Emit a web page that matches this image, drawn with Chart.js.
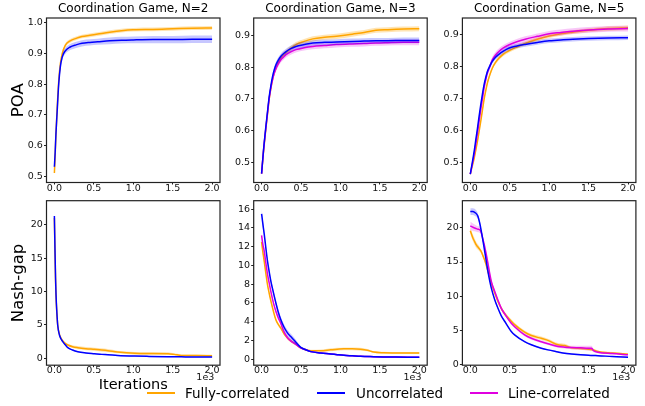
<!DOCTYPE html>
<html lang="en">
<head>
<meta charset="UTF-8">
<title>Coordination Game: POA and Nash-gap</title>
<script src="https://cdn.jsdelivr.net/npm/chart.js"></script>
<style>
  body { margin: 0; background: #fff; font-family: 'DejaVu Sans', sans-serif; }
  #fig { position: relative; width: 645px; height: 406px; overflow: hidden; }
  #fig canvas { position: absolute; }
  .leg { position: absolute; top: 383.5px; font-size: 13.5px; line-height: 18px; color: #000; white-space: nowrap; }
  .leg i { position: absolute; left: -38px; top: 8.5px; width: 28px; height: 1.5px; }
</style>
</head>
<body>
<div id="fig">
  <div class="leg" style="left:185px"><i style="background:#ffa500"></i>Fully-correlated</div>
  <div class="leg" style="left:356px"><i style="background:#0000ff;left:-39px"></i>Uncorrelated</div>
  <div class="leg" style="left:508px"><i style="background:#e000e0"></i>Line-correlated</div>
</div>
<script>
// ---- data (iterations, means and spread) ----
const titles = ['Coordination Game, N=2', 'Coordination Game, N=3', 'Coordination Game, N=5'];
const xTicks = [0, 500, 1000, 1500, 2000];
const poaTicks2 = [0.5, 0.6, 0.7, 0.8, 0.9, 1.0];
const poaTicks = [0.5, 0.6, 0.7, 0.8, 0.9];
const gapTicks20 = [0, 5, 10, 15, 20];
const gapTicks16 = [0, 2, 4, 6, 8, 10, 12, 14, 16];

// POA, N=2
const p1X = [0, 10, 20, 35, 55, 75, 100, 140, 200, 275, 350, 450, 550, 700, 850, 1000, 1250, 1500, 1750, 2000];
const p1Full = [0.512, 0.57, 0.64, 0.72, 0.81, 0.865, 0.899, 0.926, 0.94, 0.948, 0.954, 0.958, 0.962, 0.968, 0.973, 0.976, 0.977, 0.979, 0.981, 0.982];
const p1FullSd = [0.008, 0.008, 0.008, 0.008, 0.008, 0.007, 0.007, 0.006, 0.006, 0.006, 0.006, 0.006, 0.006, 0.006, 0.006, 0.006, 0.006, 0.006, 0.006, 0.006];
const p1Unc = [0.532, 0.58, 0.64, 0.71, 0.80, 0.855, 0.888, 0.908, 0.92, 0.927, 0.932, 0.935, 0.937, 0.94, 0.942, 0.943, 0.944, 0.944, 0.945, 0.945];
const p1UncSd = [0.006, 0.006, 0.006, 0.007, 0.008, 0.009, 0.010, 0.010, 0.010, 0.010, 0.010, 0.010, 0.010, 0.011, 0.011, 0.011, 0.012, 0.012, 0.012, 0.012];

// POA, N=3
const p2X = [0, 25, 55, 75, 97, 120, 140, 160, 182, 210, 245, 280, 310, 370, 435, 540, 650, 800, 950, 1150, 1300, 1450, 1600, 1800, 2000];
const p2Full = [0.464, 0.535, 0.608, 0.652, 0.70, 0.737, 0.763, 0.783, 0.798, 0.815, 0.830, 0.840, 0.847, 0.860, 0.872, 0.882, 0.890, 0.895, 0.898, 0.905, 0.910, 0.917, 0.919, 0.921, 0.922];
const p2FullSd = [0.004, 0.005, 0.006, 0.006, 0.007, 0.007, 0.008, 0.008, 0.008, 0.008, 0.008, 0.008, 0.008, 0.008, 0.008, 0.008, 0.008, 0.008, 0.008, 0.008, 0.008, 0.008, 0.008, 0.008, 0.008];
const p2Unc = [0.464, 0.540, 0.614, 0.660, 0.708, 0.745, 0.772, 0.792, 0.808, 0.822, 0.835, 0.844, 0.850, 0.859, 0.866, 0.872, 0.877, 0.879, 0.880, 0.882, 0.883, 0.884, 0.884, 0.885, 0.885];
const p2UncSd = [0.004, 0.005, 0.006, 0.007, 0.008, 0.009, 0.009, 0.009, 0.009, 0.009, 0.009, 0.009, 0.009, 0.009, 0.009, 0.009, 0.009, 0.009, 0.009, 0.009, 0.009, 0.009, 0.009, 0.009, 0.009];
const p2Line = [0.464, 0.538, 0.610, 0.655, 0.703, 0.738, 0.762, 0.781, 0.796, 0.810, 0.824, 0.833, 0.840, 0.849, 0.856, 0.862, 0.866, 0.869, 0.872, 0.874, 0.875, 0.877, 0.878, 0.879, 0.879];
const p2LineSd = [0.004, 0.005, 0.006, 0.007, 0.008, 0.009, 0.009, 0.009, 0.009, 0.009, 0.009, 0.009, 0.009, 0.009, 0.009, 0.009, 0.009, 0.009, 0.009, 0.009, 0.009, 0.009, 0.009, 0.009, 0.009];

// POA, N=5
const p3X = [0, 25, 50, 70, 92, 112, 133, 155, 175, 196, 217, 250, 279, 320, 362, 420, 487, 590, 696, 850, 1000, 1150, 1300, 1500, 1750, 2000];
const p3Full = [0.465, 0.490, 0.515, 0.540, 0.568, 0.598, 0.630, 0.665, 0.697, 0.724, 0.748, 0.775, 0.794, 0.812, 0.825, 0.838, 0.848, 0.860, 0.871, 0.884, 0.894, 0.901, 0.906, 0.912, 0.917, 0.920];
const p3FullSd = [0.003, 0.004, 0.005, 0.006, 0.006, 0.006, 0.006, 0.006, 0.006, 0.006, 0.006, 0.006, 0.006, 0.006, 0.006, 0.006, 0.006, 0.006, 0.006, 0.006, 0.006, 0.006, 0.006, 0.006, 0.007, 0.007];
const p3Unc = [0.465, 0.500, 0.537, 0.572, 0.609, 0.645, 0.681, 0.715, 0.743, 0.765, 0.784, 0.802, 0.815, 0.828, 0.837, 0.847, 0.856, 0.863, 0.868, 0.874, 0.879, 0.882, 0.884, 0.886, 0.888, 0.889];
const p3UncSd = [0.003, 0.004, 0.005, 0.006, 0.007, 0.007, 0.007, 0.007, 0.007, 0.007, 0.007, 0.007, 0.007, 0.007, 0.007, 0.007, 0.007, 0.007, 0.007, 0.007, 0.007, 0.007, 0.007, 0.007, 0.007, 0.007];
const p3Line = [0.465, 0.495, 0.527, 0.558, 0.594, 0.630, 0.666, 0.700, 0.733, 0.758, 0.779, 0.800, 0.820, 0.835, 0.846, 0.857, 0.866, 0.876, 0.884, 0.893, 0.901, 0.905, 0.909, 0.913, 0.916, 0.917];
const p3LineSd = [0.003, 0.004, 0.005, 0.006, 0.007, 0.008, 0.009, 0.009, 0.009, 0.009, 0.009, 0.009, 0.009, 0.009, 0.009, 0.009, 0.009, 0.009, 0.009, 0.009, 0.009, 0.009, 0.009, 0.009, 0.009, 0.009];

// Nash-gap, N=2
const p4X = [0, 8, 15, 21, 30, 42, 64, 85, 106, 140, 170, 230, 297, 400, 508, 600, 678, 800, 1017, 1200, 1441, 1520, 1610, 1800, 2000];
const p4Full = [21.0, 15.5, 11.5, 9.2, 7.0, 5.0, 3.6, 3.0, 2.6, 2.2, 2.0, 1.75, 1.6, 1.45, 1.35, 1.25, 1.15, 0.95, 0.75, 0.72, 0.70, 0.60, 0.45, 0.42, 0.40];
const p4FullSd = [0.5, 0.5, 0.4, 0.3, 0.25, 0.2, 0.2, 0.2, 0.2, 0.2, 0.2, 0.2, 0.25, 0.25, 0.25, 0.25, 0.25, 0.2, 0.2, 0.2, 0.2, 0.15, 0.15, 0.15, 0.15];
const p4Unc = [21.3, 16.0, 12.0, 9.5, 7.2, 5.0, 3.5, 2.9, 2.5, 2.0, 1.6, 1.25, 1.0, 0.82, 0.70, 0.60, 0.55, 0.45, 0.35, 0.30, 0.25, 0.24, 0.23, 0.21, 0.20];
const p4UncSd = [1.1, 0.7, 0.5, 0.35, 0.25, 0.15, 0.1, 0.1, 0.1, 0.1, 0.1, 0.1, 0.1, 0.08, 0.08, 0.08, 0.08, 0.08, 0.08, 0.08, 0.08, 0.08, 0.08, 0.08, 0.08];

// Nash-gap, N=3
const p5X = [0, 15, 34, 55, 76, 97, 118, 150, 181, 212, 244, 285, 328, 370, 413, 455, 497, 560, 623, 750, 876, 960, 1044, 1150, 1255, 1340, 1423, 1550, 1700, 1850, 2000];
const p5Full = [12.5, 11.5, 10.4, 9.1, 7.9, 7.0, 6.2, 5.1, 4.2, 3.7, 3.3, 2.7, 2.25, 1.95, 1.7, 1.45, 1.2, 1.0, 0.9, 0.9, 1.0, 1.05, 1.1, 1.1, 1.05, 0.95, 0.75, 0.68, 0.66, 0.65, 0.65];
const p5FullSd = [0.4, 0.35, 0.3, 0.25, 0.2, 0.2, 0.2, 0.15, 0.15, 0.15, 0.15, 0.15, 0.15, 0.15, 0.15, 0.12, 0.1, 0.1, 0.1, 0.12, 0.15, 0.15, 0.15, 0.15, 0.15, 0.12, 0.1, 0.1, 0.1, 0.1, 0.1];
const p5Unc = [15.5, 14.5, 13.3, 11.8, 10.4, 9.3, 8.3, 7.1, 6.0, 5.0, 4.2, 3.4, 2.8, 2.4, 2.0, 1.6, 1.25, 1.0, 0.8, 0.65, 0.55, 0.47, 0.4, 0.35, 0.3, 0.28, 0.25, 0.23, 0.22, 0.21, 0.2];
const p5UncSd = [0.6, 0.5, 0.4, 0.3, 0.3, 0.3, 0.3, 0.3, 0.3, 0.3, 0.3, 0.3, 0.3, 0.3, 0.3, 0.2, 0.12, 0.1, 0.08, 0.08, 0.08, 0.08, 0.08, 0.08, 0.08, 0.08, 0.08, 0.08, 0.08, 0.08, 0.08];
const p5Line = [13.2, 12.3, 11.5, 10.2, 9.0, 8.1, 7.2, 6.0, 5.1, 4.4, 3.8, 2.9, 2.3, 1.95, 1.7, 1.45, 1.2, 1.0, 0.8, 0.65, 0.55, 0.47, 0.4, 0.35, 0.3, 0.28, 0.25, 0.23, 0.22, 0.21, 0.2];
const p5LineSd = [0.3, 0.3, 0.3, 0.25, 0.25, 0.2, 0.2, 0.2, 0.2, 0.2, 0.2, 0.2, 0.2, 0.15, 0.15, 0.12, 0.1, 0.1, 0.08, 0.08, 0.08, 0.08, 0.08, 0.08, 0.08, 0.08, 0.08, 0.08, 0.08, 0.08, 0.08];

// Nash-gap, N=5
const p6X = [0, 34, 55, 76, 97, 118, 140, 161, 182, 203, 224, 245, 266, 309, 351, 393, 436, 520, 562, 689, 774, 900, 985, 1112, 1197, 1281, 1400, 1500, 1540, 1560, 1619, 1800, 2000];
const p6Full = [19.6, 18.5, 18.0, 17.5, 17.2, 16.9, 16.5, 15.9, 15.3, 14.5, 13.6, 12.8, 11.9, 10.5, 9.2, 8.2, 7.4, 6.3, 5.8, 4.7, 4.2, 3.8, 3.5, 2.85, 2.75, 2.4, 2.3, 2.2, 2.15, 2.1, 1.86, 1.65, 1.47];
const p6FullSd = [0.5, 0.5, 0.5, 0.45, 0.4, 0.35, 0.3, 0.3, 0.3, 0.3, 0.3, 0.3, 0.3, 0.3, 0.3, 0.3, 0.3, 0.3, 0.3, 0.25, 0.25, 0.25, 0.25, 0.25, 0.25, 0.2, 0.2, 0.2, 0.2, 0.2, 0.15, 0.12, 0.1];
const p6Unc = [22.4, 22.4, 22.3, 22.1, 21.7, 20.8, 19.5, 18.1, 16.6, 15.1, 13.6, 12.3, 11.2, 9.5, 8.2, 7.1, 6.3, 4.8, 4.3, 3.3, 2.85, 2.35, 2.1, 1.8, 1.6, 1.5, 1.38, 1.3, 1.28, 1.27, 1.25, 1.12, 1.03];
const p6UncSd = [0.5, 0.5, 0.5, 0.45, 0.4, 0.35, 0.3, 0.25, 0.2, 0.2, 0.2, 0.15, 0.15, 0.15, 0.12, 0.12, 0.1, 0.1, 0.1, 0.1, 0.1, 0.1, 0.1, 0.1, 0.1, 0.1, 0.1, 0.1, 0.1, 0.1, 0.1, 0.08, 0.08];
const p6Line = [20.3, 20.1, 20.0, 19.9, 19.8, 19.75, 19.3, 18.3, 17.3, 16.1, 14.8, 13.4, 12.2, 10.7, 9.4, 8.2, 7.4, 6.0, 5.5, 4.3, 3.8, 3.3, 3.0, 2.6, 2.5, 2.45, 2.4, 2.35, 2.35, 2.0, 1.76, 1.55, 1.37];
const p6LineSd = [0.6, 0.55, 0.5, 0.45, 0.45, 0.45, 0.4, 0.35, 0.3, 0.3, 0.3, 0.3, 0.25, 0.25, 0.2, 0.2, 0.2, 0.2, 0.2, 0.2, 0.2, 0.2, 0.2, 0.2, 0.2, 0.25, 0.3, 0.35, 0.35, 0.2, 0.15, 0.12, 0.1];

// ---- styling / layout ----
const FONT = "'DejaVu Sans', sans-serif";
const COLORS = { full: '#ffa500', unc: '#0000ff', line: '#e000e0' };
const BANDS = { full: 'rgba(255,165,0,0.3)', unc: 'rgba(0,0,255,0.22)', line: 'rgba(224,0,224,0.22)' };
const COLS = [46.5, 253.7, 462.4];   // frame left edge per column
const ROWS = [18, 200.7];            // frame top edge per row
const YW = [46.5, 36, 36];           // room for the y axis
const FW = 173.5, FH = 164.5;

const panels = [
  { col: 0, row: 0, x: p1X, yMin: 0.481, yMax: 1.014, yTicks: poaTicks2, dec: 1, yLabel: 'POA',
    series: [['full', p1Full, p1FullSd], ['unc', p1Unc, p1UncSd]] },
  { col: 1, row: 0, x: p2X, yMin: 0.436, yMax: 0.956, yTicks: poaTicks, dec: 1,
    series: [['full', p2Full, p2FullSd], ['line', p2Line, p2LineSd], ['unc', p2Unc, p2UncSd]] },
  { col: 2, row: 0, x: p3X, yMin: 0.439, yMax: 0.950, yTicks: poaTicks, dec: 1,
    series: [['full', p3Full, p3FullSd], ['line', p3Line, p3LineSd], ['unc', p3Unc, p3UncSd]] },
  { col: 0, row: 1, x: p4X, yMin: -1.02, yMax: 23.6, yTicks: gapTicks20, dec: 0, yLabel: 'Nash-gap', xLabel: 'Iterations',
    series: [['full', p4Full, p4FullSd], ['unc', p4Unc, p4UncSd]] },
  { col: 1, row: 1, x: p5X, yMin: -0.65, yMax: 16.9, yTicks: gapTicks16, dec: 0,
    series: [['full', p5Full, p5FullSd], ['line', p5Line, p5LineSd], ['unc', p5Unc, p5UncSd]] },
  { col: 2, row: 1, x: p6X, yMin: -0.15, yMax: 24.0, yTicks: gapTicks20, dec: 0,
    series: [['full', p6Full, p6FullSd], ['line', p6Line, p6LineSd], ['unc', p6Unc, p6UncSd]] }
];

function pts(xs, ys) { return xs.map((x, i) => ({ x: x, y: ys[i] })); }

function seriesSets(xs, key, mean, sd, layer) {
  const base = 1000 - layer * 10;
  const common = { pointRadius: 0, cubicInterpolationMode: 'monotone' };
  return [
    Object.assign({ data: pts(xs, mean.map((v, i) => v + sd[i])), borderWidth: 0, backgroundColor: BANDS[key], fill: '+1', order: base }, common),
    Object.assign({ data: pts(xs, mean.map((v, i) => v - sd[i])), borderWidth: 0, fill: false, order: base }, common),
    Object.assign({ data: pts(xs, mean), borderColor: COLORS[key], borderWidth: 1.5, fill: false, order: base - 1 }, common)
  ];
}

// box around the plot area + the "1e3" offset text
const framePlugin = {
  id: 'frame',
  afterDraw(chart, args, opts) {
    const a = chart.chartArea, c = chart.ctx;
    c.save();
    c.strokeStyle = '#222';
    c.lineWidth = 1.2;
    c.strokeRect(a.left, a.top, a.right - a.left, a.bottom - a.top);
    if (opts.offset) {
      c.font = '9.5px ' + FONT;
      c.fillStyle = '#111';
      c.textAlign = 'right';
      c.textBaseline = 'middle';
      c.fillText(opts.offset, a.right - 5.7, a.bottom + 12.8);
    }
    c.restore();
  }
};

const fig = document.getElementById('fig');

panels.forEach(p => {
  const cLeft = Math.floor(COLS[p.col] - YW[p.col]);
  const yW = COLS[p.col] - cLeft;
  const W = Math.ceil(yW + FW + 8);
  const padR = W - yW - FW;
  const cTop = p.row === 0 ? 0 : 190;
  const padT = p.row === 0 ? 0 : ROWS[1] - cTop;
  const titleH = p.row === 0 ? 18 : 0;
  const xH = p.row === 0 ? 14 : 30;
  const H = Math.ceil(padT + titleH + FH + xH);
  const padB = H - padT - titleH - FH - xH;

  const cv = document.createElement('canvas');
  cv.width = W; cv.height = H;
  cv.style.left = cLeft + 'px'; cv.style.top = cTop + 'px';
  fig.insertBefore(cv, fig.firstChild);

  let datasets = [];
  p.series.forEach((s, k) => { datasets = datasets.concat(seriesSets(p.x, s[0], s[1], s[2], k)); });

  const tickFont = { family: FONT, size: 9.5, lineHeight: 0.8 };
  new Chart(cv, {
    type: 'line',
    data: { datasets: datasets },
    options: {
      responsive: false, animation: false, events: [], devicePixelRatio: 1,
      layout: { padding: { left: 0, top: padT, right: padR, bottom: padB } },
      plugins: {
        legend: { display: false },
        tooltip: { enabled: false },
        title: { display: p.row === 0, text: titles[p.col], color: '#000', fullSize: false,
          font: { family: FONT, size: 12, weight: 'normal', lineHeight: 1.15 }, padding: { top: 2, bottom: 2.2 } },
        frame: { offset: p.row === 1 ? '1e3' : '' }
      },
      scales: {
        x: {
          type: 'linear', min: -100, max: 2100,
          afterBuildTicks: s => { s.ticks = xTicks.map(v => ({ value: v })); },
          afterFit: s => { s.height = xH; },
          grid: { drawOnChartArea: false, drawTicks: true, tickLength: 2, color: '#222' },
          border: { display: false },
          ticks: { font: tickFont, color: '#111', padding: 0, maxRotation: 0, autoSkip: false,
            callback: v => (v / 1000).toFixed(1) },
          title: { display: !!p.xLabel, text: p.xLabel || '', color: '#000',
            font: { family: FONT, size: 14.5 }, padding: { top: 0, bottom: 1.7 } }
        },
        y: {
          type: 'linear', min: p.yMin, max: p.yMax,
          afterBuildTicks: s => { s.ticks = p.yTicks.map(v => ({ value: v })); },
          afterFit: s => { s.width = yW; },
          grid: { drawOnChartArea: false, drawTicks: true, tickLength: 2.5, color: '#222' },
          border: { display: false },
          ticks: { font: { family: FONT, size: 9.5 }, color: '#111', padding: 1.2, autoSkip: false,
            callback: v => v.toFixed(p.dec) },
          title: { display: !!p.yLabel, text: p.yLabel || '', color: '#000',
            font: { family: FONT, size: 16.5 }, padding: { top: 9, bottom: 0 } }
        }
      }
    },
    plugins: [framePlugin]
  });
});
</script>
</body>
</html>
